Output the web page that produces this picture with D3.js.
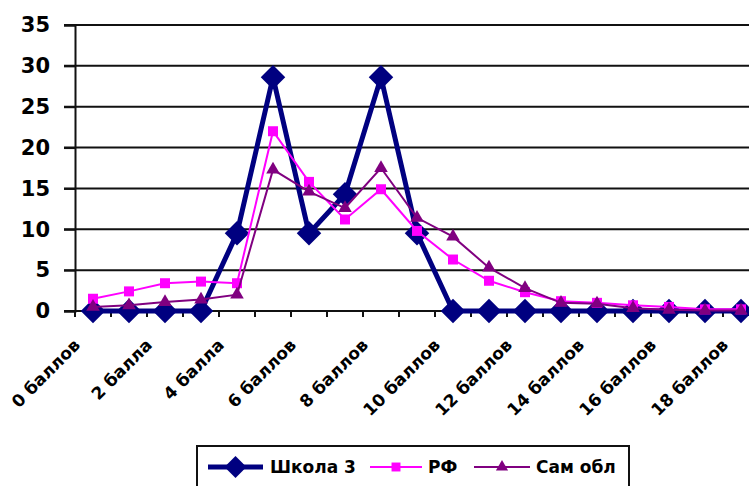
<!DOCTYPE html>
<html>
<head>
<meta charset="utf-8">
<script src="https://cdn.jsdelivr.net/npm/d3@7/dist/d3.min.js"></script>
<style>
  html, body { margin: 0; padding: 0; background: #fff; }
  svg { display: block; }
</style>
</head>
<body>
<svg id="chart" width="749" height="486"></svg>
<script>
// Score categories
const categories = [
  "0 баллов", "1 балл", "2 балла", "3 балла", "4 балла", "5 баллов",
  "6 баллов", "7 баллов", "8 баллов", "9 баллов", "10 баллов", "11 баллов",
  "12 баллов", "13 баллов", "14 баллов", "15 баллов", "16 баллов",
  "17 баллов", "18 баллов"
];

// Share of participants, %
const school3 = [0, 0, 0, 0, 9.5, 28.6, 9.5, 14.3, 28.6, 9.5, 0, 0, 0, 0, 0, 0, 0, 0, 0];
const russia  = [1.5, 2.4, 3.4, 3.6, 3.4, 22.0, 15.8, 11.2, 14.9, 9.8, 6.3, 3.7, 2.3, 1.2, 1.0, 0.7, 0.5, 0.2, 0.2];
const samara  = [0.5, 0.7, 1.1, 1.4, 2.0, 17.3, 14.6, 12.6, 17.5, 11.4, 9.1, 5.3, 2.8, 1.0, 0.9, 0.35, 0.15, 0.05, 0.05];

const yTicks = [0, 5, 10, 15, 20, 25, 30, 35];
const seriesNames = ["Школа 3", "РФ", "Сам обл"];

const svg = d3.select("#chart");
const font = "'DejaVu Sans', sans-serif";

const x = d3.scaleBand().domain(categories).range([75, 759]).padding(0);
const y = d3.scaleLinear().domain([0, 35]).range([311, 25]);
const cx = d => x(d) + x.bandwidth() / 2;

// Horizontal gridlines
svg.append("g")
  .selectAll("line")
  .data(yTicks)
  .join("line")
  .attr("x1", 64).attr("x2", 759)
  .attr("y1", d => y(d)).attr("y2", d => y(d))
  .attr("stroke", "#111").attr("stroke-width", 2);

// Y axis
const yAxis = svg.append("g")
  .attr("transform", "translate(75,0)")
  .call(d3.axisLeft(y).tickValues(yTicks).tickSize(11).tickPadding(14));
yAxis.select(".domain").attr("stroke", "#111").attr("stroke-width", 2);
yAxis.selectAll(".tick line").attr("stroke", "#111").attr("stroke-width", 2);
yAxis.selectAll("text")
  .attr("font-family", font).attr("font-weight", "bold")
  .attr("font-size", 21).attr("fill", "#000");

// X axis with tick marks at category boundaries
const xAxisG = svg.append("g").attr("transform", "translate(0,311)");
xAxisG.append("line")
  .attr("x1", 75).attr("x2", 759)
  .attr("stroke", "#111").attr("stroke-width", 2);
const boundaries = categories.map(d => x(d)).concat([x.range()[1]]);
xAxisG.selectAll("line.tk")
  .data(boundaries)
  .join("line")
  .attr("class", "tk")
  .attr("x1", d => d).attr("x2", d => d)
  .attr("y1", 0).attr("y2", 6)
  .attr("stroke", "#111").attr("stroke-width", 2);

// Category labels, every other one, rotated
svg.append("g")
  .selectAll("text")
  .data(categories.filter((d, i) => i % 2 === 0))
  .join("text")
  .attr("transform", d => `translate(${cx(d) - 16},${342}) rotate(-45)`)
  .attr("text-anchor", "end")
  .attr("dy", "0.35em")
  .attr("font-family", font).attr("font-weight", "bold")
  .attr("font-size", 17).attr("fill", "#000")
  .text(d => d);

// Series definitions
const series = [
  { name: seriesNames[0], values: school3, color: "#000080", width: 5,
    symbol: d3.symbolSquare, size: 300, rotate: 45 },
  { name: seriesNames[1], values: russia, color: "#FF00FF", width: 2,
    symbol: d3.symbolSquare, size: 100, rotate: 0 },
  { name: seriesNames[2], values: samara, color: "#800080", width: 2,
    symbol: d3.symbolTriangle, size: 80, rotate: 0 }
];

const line = d3.line()
  .x((d, i) => cx(categories[i]))
  .y(d => y(d));

const plot = svg.append("g");
series.forEach(s => {
  const g = plot.append("g");
  g.append("path")
    .attr("d", line(s.values))
    .attr("fill", "none")
    .attr("stroke", s.color)
    .attr("stroke-width", s.width)
    .attr("stroke-linejoin", "miter");
  g.selectAll("path.m")
    .data(s.values)
    .join("path")
    .attr("class", "m")
    .attr("d", d3.symbol().type(s.symbol).size(s.size))
    .attr("transform", (d, i) => `translate(${cx(categories[i])},${y(d)}) rotate(${s.rotate})`)
    .attr("fill", s.color);
});

// Legend
const legend = svg.append("g");
legend.append("rect")
  .attr("x", 197).attr("y", 446)
  .attr("width", 432).attr("height", 50)
  .attr("fill", "#fff").attr("stroke", "#111").attr("stroke-width", 2);

const legendItems = [
  { s: series[0], x0: 208, x1: 263, tx: 270 },
  { s: series[1], x0: 370, x1: 422, tx: 428 },
  { s: series[2], x0: 474, x1: 530, tx: 536 }
];
legendItems.forEach(it => {
  const ly = 467;
  legend.append("line")
    .attr("x1", it.x0).attr("x2", it.x1)
    .attr("y1", ly).attr("y2", ly)
    .attr("stroke", it.s.color).attr("stroke-width", it.s.width);
  legend.append("path")
    .attr("d", d3.symbol().type(it.s.symbol).size(it.s.size * 0.8))
    .attr("transform", `translate(${(it.x0 + it.x1) / 2},${ly}) rotate(${it.s.rotate})`)
    .attr("fill", it.s.color);
  legend.append("text")
    .attr("x", it.tx).attr("y", ly)
    .attr("dy", "0.36em")
    .attr("font-family", font).attr("font-weight", "bold")
    .attr("font-size", 17).attr("fill", "#000")
    .text(it.s.name);
});
</script>
</body>
</html>
